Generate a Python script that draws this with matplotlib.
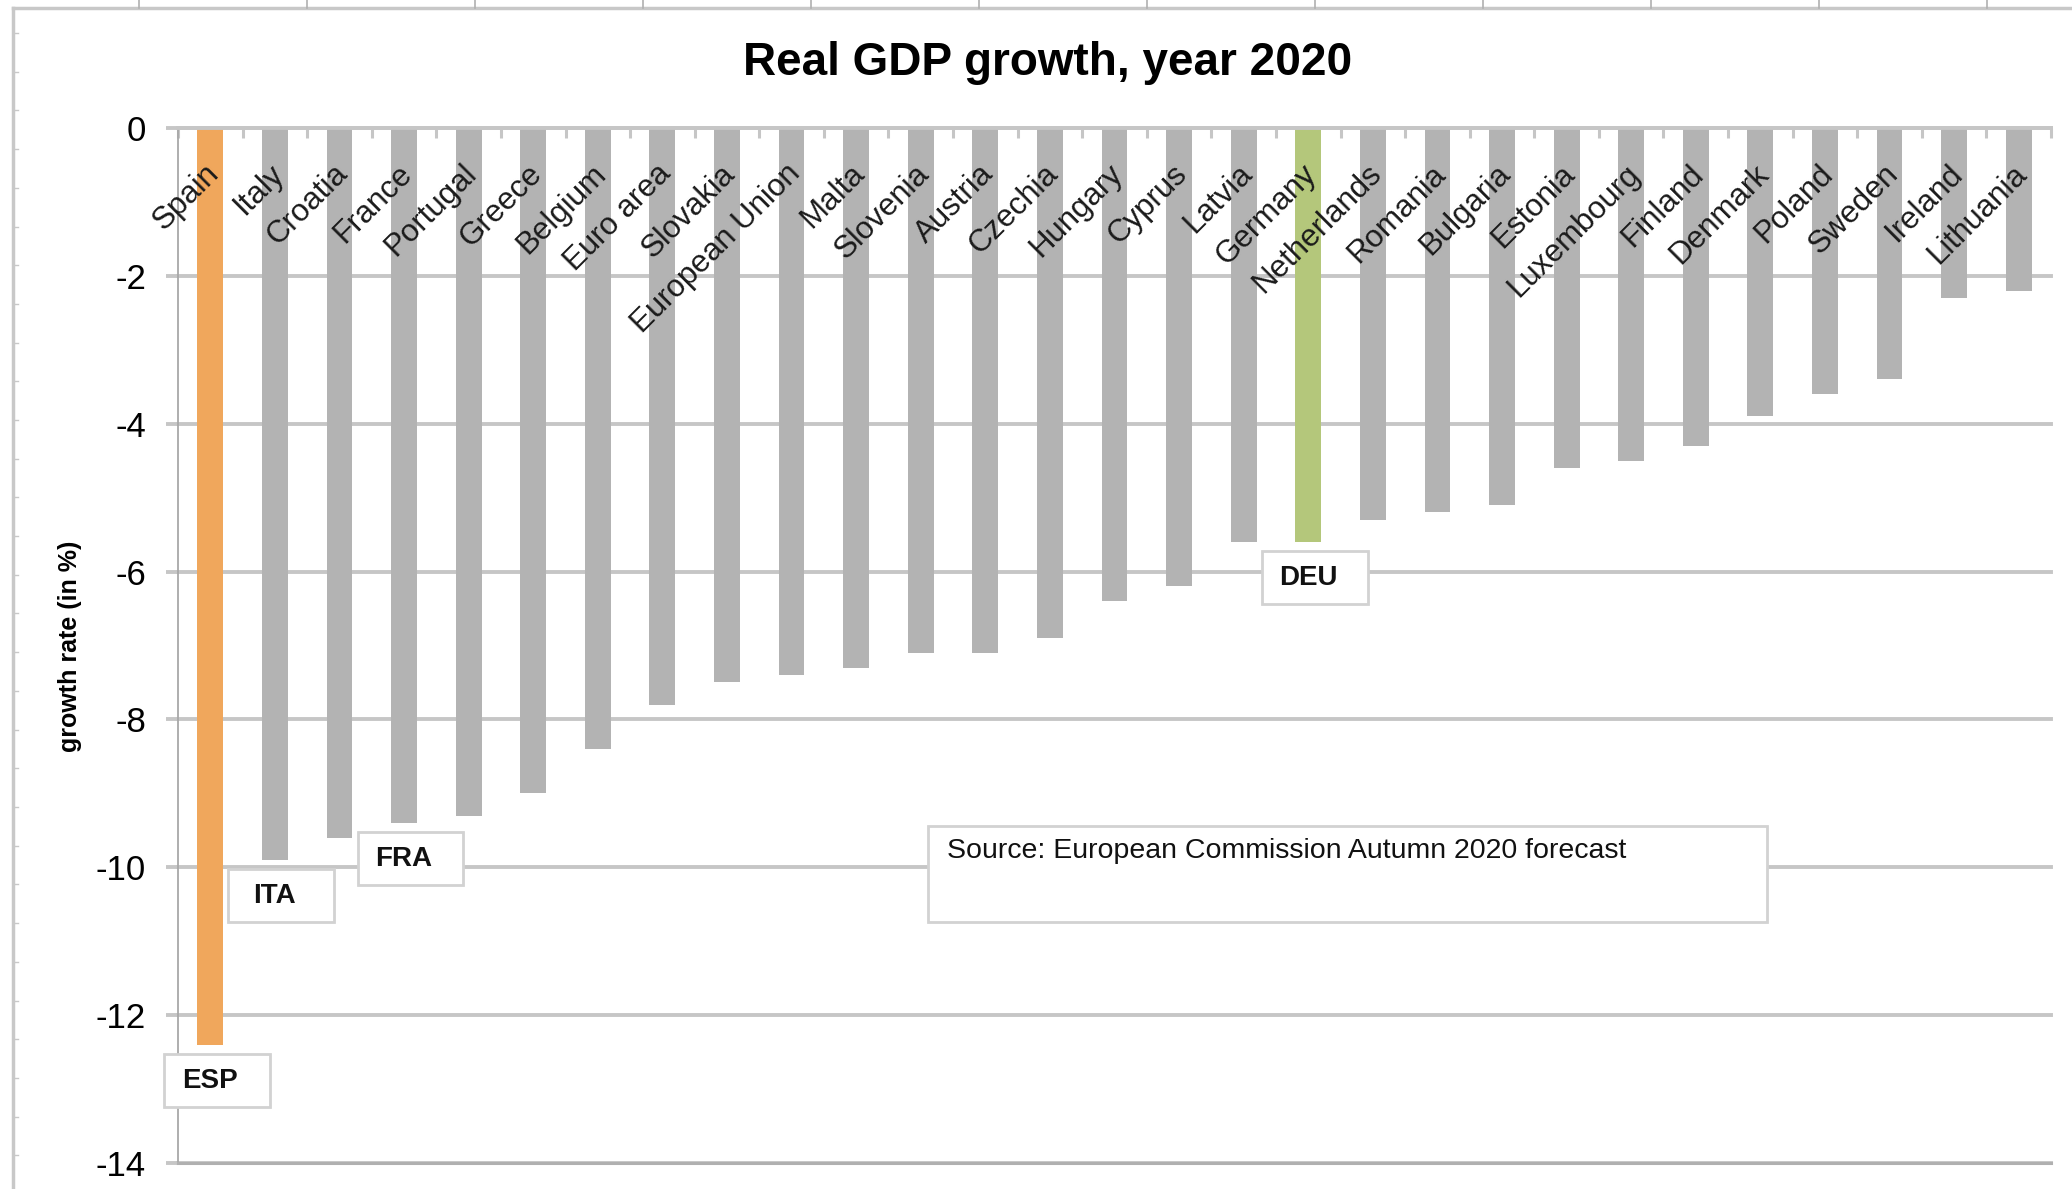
import matplotlib
matplotlib.use('Agg')
import matplotlib.pyplot as plt
from matplotlib.patches import Rectangle
from matplotlib.lines import Line2D
import numpy as np

plt.rcParams['font.family'] = ['Liberation Sans', 'DejaVu Sans']

# data (EC Autumn 2020 forecast)
countries = ['Spain', 'Italy', 'Croatia', 'France', 'Portugal', 'Greece', 'Belgium',
             'Euro area', 'Slovakia', 'European Union', 'Malta', 'Slovenia', 'Austria',
             'Czechia', 'Hungary', 'Cyprus', 'Latvia', 'Germany', 'Netherlands',
             'Romania', 'Bulgaria', 'Estonia', 'Luxembourg', 'Finland', 'Denmark',
             'Poland', 'Sweden', 'Ireland', 'Lithuania']
growth = [-12.4, -9.9, -9.6, -9.4, -9.3, -9.0, -8.4, -7.8, -7.5, -7.4, -7.3, -7.1, -7.1,
          -6.9, -6.4, -6.2, -5.6, -5.6, -5.3, -5.2, -5.1, -4.6, -4.5, -4.3, -3.9,
          -3.6, -3.4, -2.3, -2.2]
highlight = {'Spain': '#f0a75c', 'Germany': '#b4c77b'}
callouts = [('ESP', 'Spain'), ('ITA', 'Italy'), ('FRA', 'France'), ('DEU', 'Germany')]
yticks = list(range(0, -15, -2))
source = 'Source: European Commission Autumn 2020 forecast'

W, H = 2072, 1189
fig = plt.figure(figsize=(W / 100, H / 100), dpi=100)
ax = fig.add_axes([178 / W, 1 - 1163 / H, (2051 - 178) / W, (1163 - 128) / H])

grid_c = '#c6c6c6'
x = np.arange(len(countries))
colors = [highlight.get(c, '#b3b3b3') for c in countries]
ax.bar(x, growth, width=0.4, color=colors, zorder=2)

ax.set_xlim(-0.5, len(countries) - 0.5)
ax.set_ylim(-14, 0)
ax.set_yticks(yticks)
ax.set_yticklabels([str(t) for t in yticks], fontsize=25)
ax.tick_params(axis='y', length=9, width=2.8, color=grid_c, pad=14)
ax.yaxis.grid(True, color=grid_c, lw=2.8, zorder=0)
for gl in ax.get_ygridlines():
    gl.set_clip_on(False)
ax.set_axisbelow(True)

# ticks between categories along the zero line
ax.xaxis.tick_top()
ax.set_xticks(np.arange(-0.5, len(countries)), labels=[])
ax.tick_params(axis='x', direction='in', length=7, width=2.2, color=grid_c)

ax.spines['right'].set_visible(False)
ax.spines['top'].set_color(grid_c)
ax.spines['top'].set_linewidth(2.8)
ax.spines['left'].set_color('#a8a8a8')
ax.spines['left'].set_linewidth(1.3)
ax.spines['bottom'].set_color('#b0b0b0')
ax.spines['bottom'].set_linewidth(2.2)

# category names inside the plot, under the zero line
for i, c in enumerate(countries):
    ax.text(i + 0.06, -0.56, c, rotation=45, ha='right', va='center',
            rotation_mode='anchor', fontsize=22.5, color='#1a1a1a', zorder=3)

# callout boxes under the bars
for code, name in callouts:
    i = countries.index(name)
    top = growth[i] - 0.12
    ax.add_patch(Rectangle((i + 0.1 - 0.82, top - 0.72), 1.64, 0.72, fc='white',
                           ec='#d2d2d2', lw=2, zorder=4, clip_on=False))
    ax.text(i + 0.0, top - 0.37, code, ha='center', va='center', fontsize=20,
            fontweight='bold', color='#111111', zorder=5)

ax.add_patch(Rectangle((11.12, -10.74), 12.98, 1.30, fc='white', ec='#d2d2d2',
                       lw=2, zorder=4))
ax.text(11.4, -9.6, source, ha='left', va='top', fontsize=20.5, color='#111111',
        zorder=5)

fig.text(1048 / W, 1 - 63 / H, 'Real GDP growth, year 2020', ha='center',
         va='center', fontsize=33, fontweight='bold')
fig.text(70 / W, 1 - 646 / H, 'growth rate (in %)', rotation=90, ha='center',
         va='center', fontsize=18, fontweight='bold')

# ruler-like frame around the screenshot
frame_c = '#c8c8c8'
fig.add_artist(Line2D([13 / W, 1], [1 - 8 / H] * 2, color=frame_c, lw=2.5))
fig.add_artist(Line2D([13 / W] * 2, [0, 1 - 8 / H], color=frame_c, lw=2.5))
for px in np.arange(139, W, 168):
    fig.add_artist(Line2D([px / W] * 2, [1 - 8 / H, 1], color='#b0b0b0', lw=1.2))
for py in np.arange(33, H, 38.7):
    fig.add_artist(Line2D([13 / W, 18 / W], [1 - py / H] * 2, color=frame_c, lw=1))

fig.savefig('out.png', dpi=100, facecolor='white')
